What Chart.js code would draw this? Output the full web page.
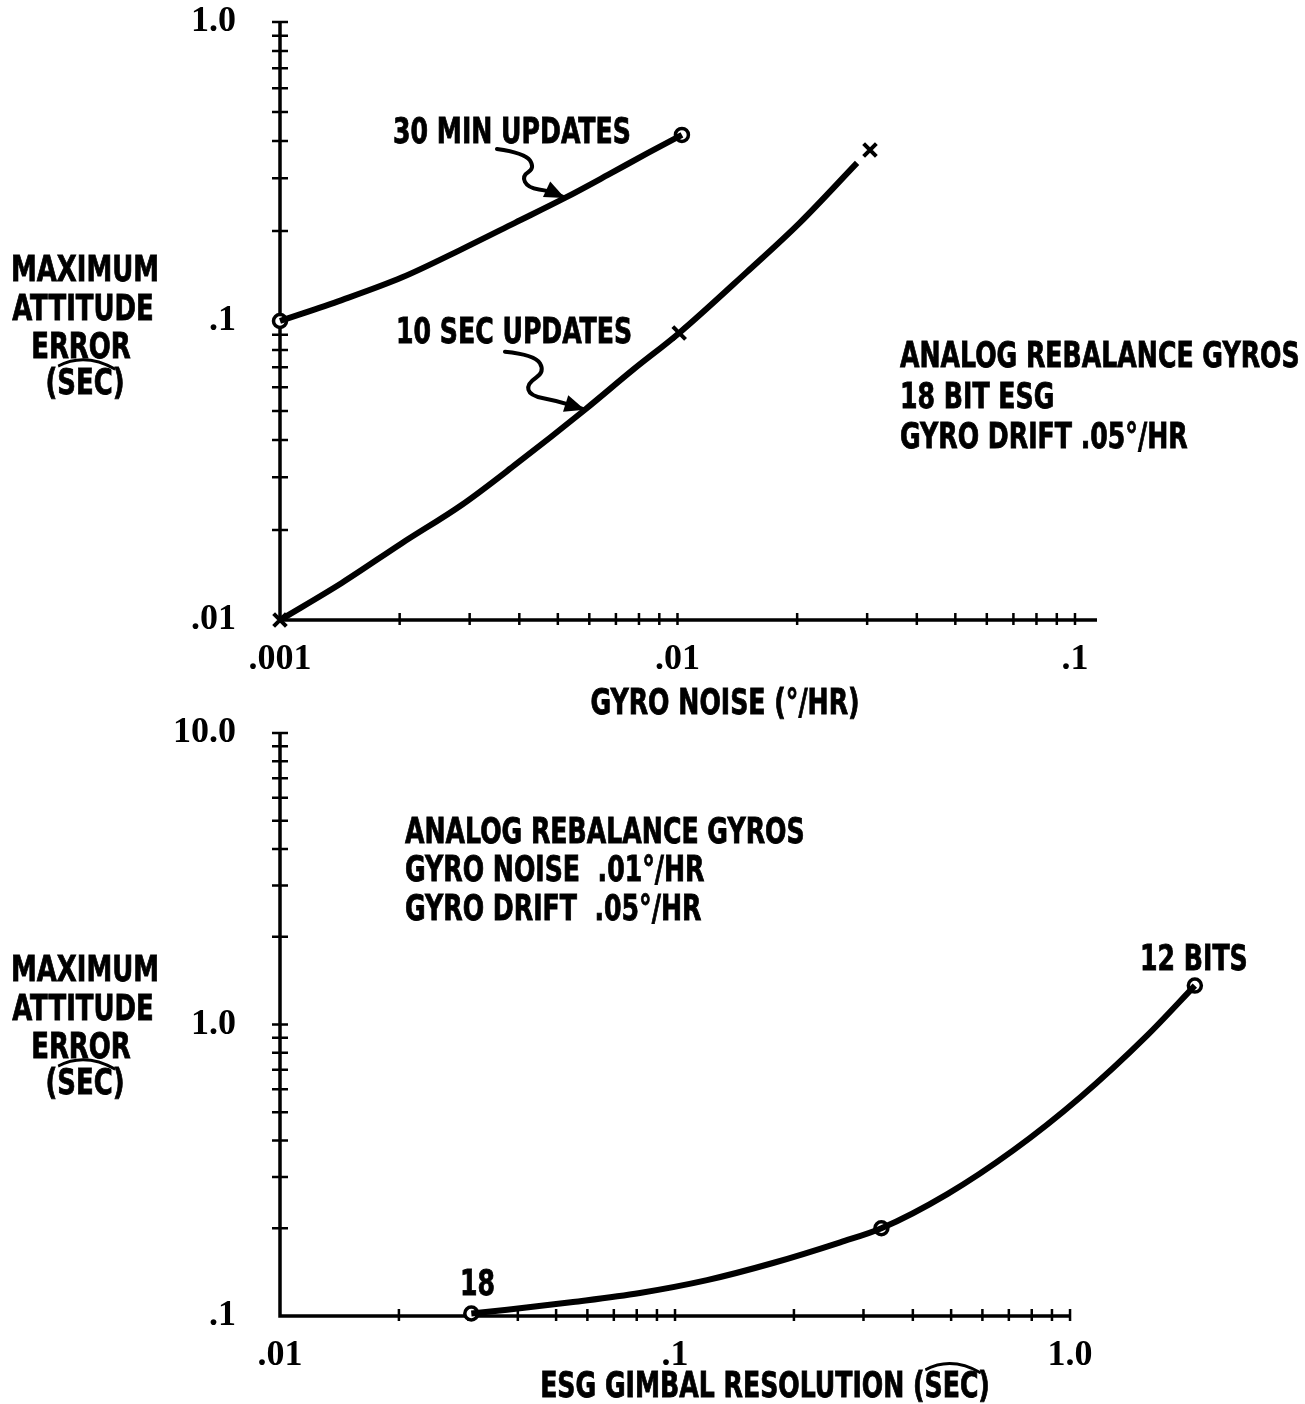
<!DOCTYPE html>
<html>
<head>
<meta charset="utf-8">
<script src="https://cdn.jsdelivr.net/npm/chart.js@4.4.1/dist/chart.umd.min.js"></script>
<style>
  body { margin: 0; background: #fff; }
  canvas { position: absolute; left: 0; }
  #top { top: 0; }
  #bottom { top: 700px; }
</style>
</head>
<body>
<canvas id="top" width="1305" height="720"></canvas>
<canvas id="bottom" width="1305" height="704"></canvas>
<script>
// top plot: gyro noise vs max attitude error
const noiseTicks = [0.001, 0.01, 0.1];
const noiseTickLabels = [".001", ".01", ".1"];
const errTopTicks = [0.01, 0.1, 1];
const errTopTickLabels = [".01", ".1", "1.0"];

const min30Noise = [0.001, 0.00143, 0.00203, 0.00287, 0.0039, 0.00521, 0.00668, 0.00843, 0.01026];
const min30Error = [0.1, 0.1175, 0.140, 0.174, 0.213, 0.258, 0.308, 0.365, 0.419];
const min30MarkNoise = [0.001, 0.01026];
const min30MarkError = [0.1, 0.419];

const sec10Noise = [0.001, 0.00143, 0.00203, 0.00287, 0.0039, 0.00585, 0.00772, 0.0101, 0.01496, 0.0203, 0.0283];
const sec10Error = [0.01, 0.0133, 0.0181, 0.0243, 0.033, 0.0505, 0.0686, 0.0912, 0.146, 0.213, 0.338];
const sec10MarkNoise = [0.001, 0.0101, 0.0305];
const sec10MarkError = [0.01, 0.0912, 0.373];

// bottom plot: ESG gimbal resolution vs max attitude error
const resTicks = [0.01, 0.1, 1];
const resTickLabels = [".01", ".1", "1.0"];
const errBotTicks = [0.1, 1, 10];
const errBotTickLabels = [".1", "1.0", "10.0"];

const gimbalRes = [0.0305, 0.0376, 0.0552, 0.0815, 0.1205, 0.177, 0.262, 0.333, 0.489, 0.718, 1.06, 1.566, 2.07];
const gimbalErr = [0.102, 0.105, 0.1117, 0.120, 0.1328, 0.152, 0.179, 0.200, 0.262, 0.37, 0.562, 0.916, 1.36];
const bitRes = [0.0305, 0.333, 2.07];
const bitErr = [0.102, 0.200, 1.36];

const NARROW = '"Liberation Sans Narrow", "DejaVu Sans Condensed", sans-serif';
const SERIF = '"Liberation Serif", "DejaVu Serif", serif';
const SQUEEZE = 0.8;

Chart.defaults.color = "#000";

function pts(xs, ys) {
  return xs.map((x, i) => ({ x: x, y: ys[i] }));
}

function logTicks(min, max) {
  const out = [];
  for (let e = Math.floor(Math.log10(min)); e <= Math.ceil(Math.log10(max)); e++) {
    for (let m = 1; m <= 9; m++) {
      const v = m * Math.pow(10, e);
      if (v >= min * 0.999 && v <= max * 1.001) out.push(v);
    }
  }
  return out;
}

// condensed label text, optional hat over one word
function drawText(ctx, t) {
  ctx.save();
  ctx.font = "bold " + t.size + "px " + NARROW;
  ctx.translate(t.x, t.y);
  ctx.scale(SQUEEZE, 1);
  ctx.textAlign = "left";
  const w = ctx.measureText(t.text).width;
  const left = t.align === "center" ? -w / 2 : 0;
  ctx.fillText(t.text, left, 0);
  ctx.lineWidth = 0.8;
  ctx.strokeText(t.text, left, 0);
  if (t.hat) {
    const i = t.text.indexOf(t.hat);
    const sx = left + ctx.measureText(t.text.slice(0, i)).width;
    const ww = ctx.measureText(t.hat).width;
    const top = -t.size * 0.72;
    ctx.lineWidth = 3;
    ctx.beginPath();
    ctx.moveTo(sx + 1, top - 2);
    ctx.quadraticCurveTo(sx + ww * 0.5, top - 16, sx + ww + 3, top + 1);
    ctx.stroke();
  }
  ctx.restore();
}

function squiggle(ctx, path) {
  ctx.lineWidth = 4;
  ctx.lineJoin = "round";
  ctx.lineCap = "round";
  ctx.beginPath();
  ctx.moveTo(path[0][0], path[0][1]);
  for (let i = 1; i < path.length - 1; i++) {
    const mx = (path[i][0] + path[i + 1][0]) / 2, my = (path[i][1] + path[i + 1][1]) / 2;
    ctx.quadraticCurveTo(path[i][0], path[i][1], mx, my);
  }
  const a = path[path.length - 2], b = path[path.length - 1];
  ctx.lineTo(b[0], b[1]);
  ctx.stroke();
  const ang = Math.atan2(b[1] - a[1], b[0] - a[0]);
  ctx.beginPath();
  ctx.moveTo(b[0], b[1]);
  ctx.lineTo(b[0] - 22 * Math.cos(ang - 0.4), b[1] - 22 * Math.sin(ang - 0.4));
  ctx.lineTo(b[0] - 22 * Math.cos(ang + 0.4), b[1] - 22 * Math.sin(ang + 0.4));
  ctx.closePath();
  ctx.fill();
}

const plotAxes = {
  id: "plotAxes",
  beforeDatasetsDraw(chart, args, opts) {
    const ctx = chart.ctx;
    const xs = chart.scales.x, ys = chart.scales.y;
    const xEnd = opts.xEnd || xs.max;
    const x0 = xs.getPixelForValue(xs.min), x1 = xs.getPixelForValue(xEnd);
    const y0 = ys.getPixelForValue(ys.min), y1 = ys.getPixelForValue(ys.max);
    ctx.save();
    ctx.strokeStyle = "#000";
    ctx.lineWidth = 3.5;
    ctx.beginPath();
    ctx.moveTo(x0, y1);
    ctx.lineTo(x0, y0);
    ctx.lineTo(x1, y0);
    ctx.stroke();
    ctx.lineWidth = 2.5;
    ctx.beginPath();
    logTicks(xs.min, xEnd).forEach(v => {
      const p = xs.getPixelForValue(v);
      if (p < x0 + 2) return;
      ctx.moveTo(p, y0 - 7);
      ctx.lineTo(p, y0 + 5);
    });
    logTicks(ys.min, ys.max).forEach(v => {
      const p = ys.getPixelForValue(v);
      if (p > y0 - 2) return;
      ctx.moveTo(x0 - 8, p);
      ctx.lineTo(x0 + 8, p);
    });
    ctx.stroke();
    ctx.restore();
  },
  afterDraw(chart, args, opts) {
    const ctx = chart.ctx;
    const xs = chart.scales.x, ys = chart.scales.y;
    ctx.save();
    ctx.fillStyle = "#000";
    ctx.strokeStyle = "#000";
    ctx.textBaseline = "alphabetic";
    (opts.texts || []).forEach(t => drawText(ctx, t));
    (opts.arrows || []).forEach(a => {
      const tx = xs.getPixelForValue(a.x), ty = ys.getPixelForValue(a.y);
      squiggle(ctx, a.path.map(p => [tx + p[0], ty + p[1]]));
    });
    ctx.restore();
  }
};

function logAxis(min, max, ticks, labels, fitKey, fitSize, pad) {
  return {
    type: "logarithmic",
    min: min,
    max: max,
    bounds: "data",
    grid: { display: false },
    border: { display: false },
    afterBuildTicks: s => { s.ticks = ticks.map(v => ({ value: v })); },
    afterFit: s => {
      s[fitKey] = fitSize;
      s.paddingTop = 0;
      s.paddingBottom = 0;
      s.paddingLeft = 0;
      s.paddingRight = 0;
    },
    ticks: {
      autoSkip: false,
      maxRotation: 0,
      padding: pad,
      color: "#000",
      font: { family: SERIF, weight: "bold", size: 36 },
      callback: (v, i) => labels[i]
    }
  };
}

const lineStyle = { borderColor: "#000", borderWidth: 6, pointRadius: 0, cubicInterpolationMode: "monotone", fill: false, clip: false };
const circleMark = { type: "scatter", showLine: false, pointStyle: "circle", pointRadius: 6.5, borderWidth: 3.5, borderColor: "#000", backgroundColor: "#fff", clip: false };
const crossMark = { type: "scatter", showLine: false, pointStyle: "crossRot", pointRadius: 9, borderWidth: 4, borderColor: "#000", clip: false };

const yTitle = [
  { text: "MAXIMUM", x: 85, y: 281, size: 36, align: "center" },
  { text: "ATTITUDE", x: 83, y: 320, size: 36, align: "center" },
  { text: "ERROR", x: 81, y: 358, size: 36, align: "center" },
  { text: "(SEC)", x: 85, y: 394, size: 36, align: "center", hat: "SEC" }
];

new Chart(document.getElementById("top"), {
  type: "line",
  data: {
    datasets: [
      Object.assign({ data: pts(min30Noise, min30Error) }, lineStyle),
      Object.assign({ data: pts(sec10Noise, sec10Error) }, lineStyle),
      Object.assign({ data: pts(min30MarkNoise, min30MarkError) }, circleMark),
      Object.assign({ data: pts(sec10MarkNoise, sec10MarkError) }, crossMark)
    ]
  },
  options: {
    responsive: false,
    animation: false,
    events: [],
    layout: { padding: { left: 10, right: 208, top: 22, bottom: 40 } },
    scales: {
      x: logAxis(0.001, 0.1136, noiseTicks, noiseTickLabels, "height", 60, 10),
      y: logAxis(0.01, 1, errTopTicks, errTopTickLabels, "width", 270, 36)
    },
    plugins: {
      legend: { display: false },
      tooltip: { enabled: false },
      plotAxes: {
        texts: yTitle.concat([
          { text: "30 MIN UPDATES", x: 393, y: 143, size: 35 },
          { text: "10 SEC UPDATES", x: 396, y: 343, size: 35 },
          { text: "ANALOG REBALANCE GYROS", x: 900, y: 367, size: 35 },
          { text: "18 BIT ESG", x: 900, y: 408, size: 35 },
          { text: "GYRO DRIFT .05°/HR", x: 900, y: 448, size: 35 },
          { text: "GYRO NOISE (°/HR)", x: 725, y: 714, size: 35, align: "center" }
        ]),
        arrows: [
          { x: 0.00521, y: 0.258, path: [[-68, -49], [-40, -45], [-30, -30], [-43, -22], [-37, -10], [-15, -7], [0, 0]] },
          { x: 0.00585, y: 0.0505, path: [[-80, -58], [-50, -55], [-40, -38], [-58, -26], [-55, -14], [-28, -9], [0, 0]] }
        ]
      }
    }
  },
  plugins: [plotAxes]
});

new Chart(document.getElementById("bottom"), {
  type: "line",
  data: {
    datasets: [
      Object.assign({ data: pts(gimbalRes, gimbalErr) }, lineStyle),
      Object.assign({ data: pts(bitRes, bitErr) }, circleMark)
    ]
  },
  options: {
    responsive: false,
    animation: false,
    events: [],
    layout: { padding: { left: 10, right: 92, top: 33, bottom: 28 } },
    scales: {
      x: logAxis(0.01, 2.301, resTicks, resTickLabels, "height", 60, 10),
      y: logAxis(0.1, 10, errBotTicks, errBotTickLabels, "width", 270, 36)
    },
    plugins: {
      legend: { display: false },
      tooltip: { enabled: false },
      plotAxes: {
        xEnd: 1,
        texts: yTitle.concat([
          { text: "ANALOG REBALANCE GYROS", x: 405, y: 143, size: 35 },
          { text: "GYRO NOISE  .01°/HR", x: 405, y: 181, size: 35 },
          { text: "GYRO DRIFT  .05°/HR", x: 405, y: 220, size: 35 },
          { text: "12 BITS", x: 1140, y: 270, size: 35 },
          { text: "18", x: 460, y: 595, size: 35 },
          { text: "ESG GIMBAL RESOLUTION (SEC)", x: 765, y: 697, size: 35, align: "center", hat: "SEC" }
        ])
      }
    }
  },
  plugins: [plotAxes]
});
</script>
</body>
</html>
